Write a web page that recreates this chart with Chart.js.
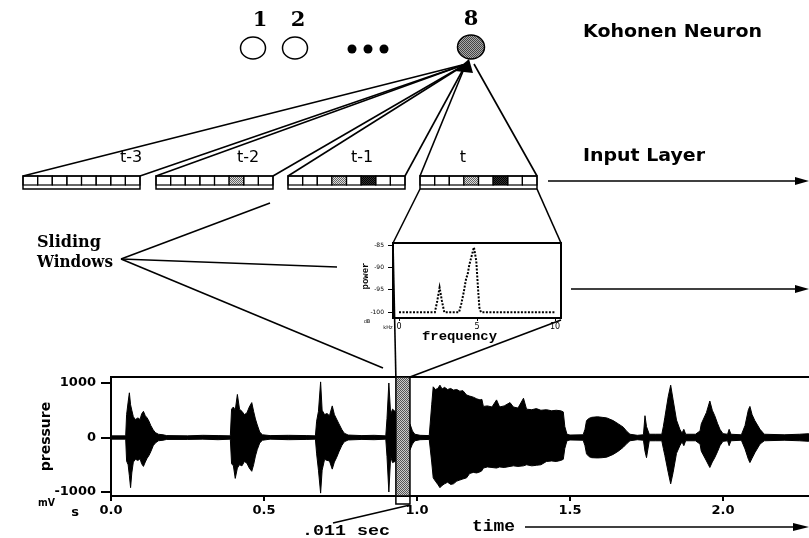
<!DOCTYPE html>
<html>
<head>
<meta charset="utf-8">
<script src="https://cdn.jsdelivr.net/npm/chart.js@4.4.1/dist/chart.umd.min.js"></script>
<style>
  html, body { margin: 0; padding: 0; background: #fff; overflow: hidden; }
  #wrap { position: relative; width: 830px; height: 538px; }
  #wrap canvas { position: absolute; left: 0; top: 0; }
</style>
</head>
<body>
<div id="wrap">
  <canvas id="pressureChart" width="830" height="538"></canvas>
  <canvas id="powerChart" width="830" height="538"></canvas>
</div>
<script>
// pressure trace: envelope of the recording (seconds, mV)
const timeTicks = [0, 0.5, 1.0, 1.5, 2.0];
const pressureTicks = [-1000, 0, 1000];
const waveTime = [
  0.000, 0.048, 0.051, 0.056, 0.060, 0.064, 0.068, 0.073, 0.080, 0.088, 0.095, 0.100, 0.106, 0.112, 0.118, 0.124, 0.130, 0.138, 0.145, 0.155, 0.170, 0.182, 0.250, 0.300, 0.350, 0.390,
  0.394, 0.400, 0.406, 0.413, 0.420, 0.428, 0.436, 0.444, 0.452, 0.460, 0.466, 0.472, 0.478, 0.486, 0.495, 0.520, 0.580, 0.640, 0.668,
  0.672, 0.678, 0.685, 0.690, 0.698, 0.706, 0.714, 0.723, 0.730, 0.737, 0.745, 0.754, 0.762, 0.775, 0.820, 0.860, 0.898,
  0.902, 0.908, 0.914, 0.920, 0.928, 0.935, 0.950, 0.965, 0.977, 0.985, 0.993, 1.010, 1.040,
  1.048, 1.053, 1.060, 1.068, 1.075, 1.082, 1.090, 1.100, 1.110, 1.119, 1.130, 1.140, 1.150, 1.162, 1.172, 1.184, 1.195, 1.206, 1.212, 1.217, 1.230, 1.245, 1.260, 1.270, 1.285, 1.304, 1.315, 1.330, 1.348, 1.358, 1.375, 1.390, 1.405, 1.423, 1.440, 1.455, 1.470, 1.478, 1.483, 1.490, 1.500, 1.543,
  1.549, 1.554, 1.562, 1.571, 1.590, 1.605, 1.620, 1.641, 1.658, 1.674, 1.686, 1.696, 1.720, 1.740, 1.745, 1.750, 1.759, 1.780, 1.800,
  1.805, 1.810, 1.821, 1.829, 1.837, 1.848, 1.859, 1.866, 1.872, 1.878, 1.910,
  1.925, 1.929, 1.946, 1.957, 1.965, 1.973, 1.982, 1.990, 2.000, 2.015, 2.020, 2.026, 2.060,
  2.072, 2.083, 2.088, 2.095, 2.104, 2.121, 2.135, 2.200, 2.250, 2.280, 2.320
];
const waveUpper = [
  30, 30, 420, 650, 820, 600, 500, 380, 330, 360, 330, 430, 480, 400, 360, 300, 220, 140, 90, 60, 50, 35, 30, 40, 35, 30,
  520, 560, 500, 790, 520, 480, 420, 450, 560, 640, 480, 340, 230, 100, 50, 35, 40, 35, 30,
  300, 480, 1020, 500, 420, 440, 400, 580, 420, 340, 250, 150, 80, 45, 35, 40, 30,
  350, 1000, 420, 520, 480, 400, 330, 280, 250, 120, 60, 40, 35,
  600, 930, 880, 900, 960, 890, 920, 880, 900, 870, 880, 850, 860, 780, 760, 740, 710, 690, 700, 570, 580, 560, 690, 560, 580, 640, 560, 540, 720, 520, 510, 530, 500, 510, 490, 500, 490, 470, 200, 60, 45, 50,
  150, 310, 350, 370, 380, 370, 360, 310, 250, 190, 110, 60, 40, 50, 400, 200, 60, 60, 60,
  200, 370, 750, 960, 690, 320, 150, 80, 150, 60, 60,
  120, 250, 460, 670, 500, 400, 260, 150, 70, 60, 150, 60, 50,
  220, 510, 570, 420, 310, 150, 60, 50, 60, 70, 60
];
const waveLower = [
  -30, -30, -430, -500, -700, -920, -650, -450, -400, -420, -390, -480, -530, -450, -380, -330, -260, -150, -100, -60, -50, -35, -35, -30, -40, -30,
  -480, -520, -750, -560, -500, -520, -440, -470, -560, -620, -500, -340, -220, -100, -50, -30, -40, -35, -30,
  -300, -600, -1020, -600, -400, -420, -430, -580, -450, -370, -260, -150, -80, -45, -35, -40, -30,
  -350, -1000, -350, -460, -440, -380, -320, -270, -230, -120, -60, -40, -35,
  -450, -740, -800, -860, -920, -880, -850, -820, -860, -850, -800, -780, -760, -740, -660, -640, -650, -630, -610, -560, -540, -550, -560, -540, -550, -530, -520, -530, -520, -500, -520, -510, -500, -440, -430, -440, -420, -400, -200, -60, -45, -50,
  -150, -300, -350, -370, -375, -370, -360, -310, -250, -180, -110, -60, -40, -50, -250, -370, -60, -60, -60,
  -200, -330, -640, -850, -640, -290, -150, -80, -150, -60, -60,
  -120, -250, -430, -550, -450, -370, -260, -150, -70, -60, -150, -60, -50,
  -210, -400, -460, -380, -280, -120, -60, -50, -60, -70, -60
];
const slidingWindow = [0.931, 0.977];   // seconds, shaded analysis frame

// spectrum of the current frame (kHz, dB)
const freqTicks = [0, 5, 10];
const powerTicks = [-100, -95, -90, -85];
const powerFreq = [0, 2.3, 2.45, 2.6, 2.75, 2.9, 3.85, 4.0, 4.15, 4.3, 4.4, 4.5, 4.65, 4.8, 4.95, 5.05, 5.15, 5.25, 10];
const powerDb = [-100, -100, -97.5, -94.5, -97.5, -100, -100, -98, -95.5, -92.5, -91.5, -89.5, -87.5, -85.5, -88.5, -94, -99, -100, -100];

// network diagram contents
const neuronLabels = ['1', '2', '8'];
const inputLabels = ['t-3', 't-2', 't-1', 't'];
// 0 = off, 1 = grey, 2 = black
const inputCells = [
  [0, 0, 0, 0, 0, 0, 0, 0],
  [0, 0, 0, 0, 0, 1, 0, 0],
  [0, 0, 0, 1, 0, 2, 0, 0],
  [0, 0, 0, 1, 0, 2, 0, 0]
];

// layout
const pressureArea = { left: 111, top: 377, bottom: 496, right: 820 };
const specBox = { left: 393, top: 243, right: 561, bottom: 318 };
const boxLefts = [23, 156, 288, 420];
const boxWidth = 117;
const boxTop = 176;
const apex = [466, 64];

function stipple(ctx, dark, light) {
  const c = document.createElement('canvas');
  c.width = 2; c.height = 2;
  const p = c.getContext('2d');
  p.fillStyle = light; p.fillRect(0, 0, 2, 2);
  p.fillStyle = dark; p.fillRect(0, 0, 1, 1); p.fillRect(1, 1, 1, 1);
  return ctx.createPattern(c, 'repeat');
}

function line(ctx, x1, y1, x2, y2, w) {
  ctx.lineWidth = w || 1.5;
  ctx.beginPath(); ctx.moveTo(x1, y1); ctx.lineTo(x2, y2); ctx.stroke();
}

function arrow(ctx, x1, y1, x2, y2, head, half) {
  const a = Math.atan2(y2 - y1, x2 - x1);
  const c = Math.cos(a), s = Math.sin(a);
  line(ctx, x1, y1, x2 - head * c * 0.7, y2 - head * s * 0.7, 1.5);
  ctx.beginPath();
  ctx.moveTo(x2, y2);
  ctx.lineTo(x2 - head * c + half * s, y2 - head * s - half * c);
  ctx.lineTo(x2 - head * c - half * s, y2 - head * s + half * c);
  ctx.closePath(); ctx.fill();
}

// text squeezed or stretched to a given width
function fitText(ctx, text, x, y, width, font) {
  ctx.save();
  ctx.font = font;
  ctx.textAlign = 'left';
  ctx.textBaseline = 'middle';
  const w = ctx.measureText(text).width;
  ctx.translate(x, y);
  ctx.scale(width / w, 1);
  ctx.fillText(text, 0, 0);
  ctx.restore();
}

function drawDiagram(chart) {
  const ctx = chart.ctx;
  ctx.save();
  ctx.strokeStyle = '#000';
  ctx.fillStyle = '#000';

  // Kohonen layer
  ctx.font = 'bold 21px "DejaVu Serif"';
  ctx.textAlign = 'center';
  ctx.textBaseline = 'middle';
  ctx.fillText(neuronLabels[0], 260, 21);
  ctx.fillText(neuronLabels[1], 298, 21);
  ctx.fillText(neuronLabels[2], 471, 20);
  ctx.lineWidth = 1.5;
  [[253, 48], [295, 48]].forEach(([cx, cy]) => {
    ctx.beginPath(); ctx.ellipse(cx, cy, 12.5, 11, 0, 0, Math.PI * 2); ctx.stroke();
  });
  [352, 368, 384].forEach(cx => {
    ctx.beginPath(); ctx.arc(cx, 49, 4.5, 0, Math.PI * 2); ctx.fill();
  });
  ctx.fillStyle = stipple(ctx, '#444', '#aaa');
  ctx.beginPath(); ctx.ellipse(471, 47, 13.5, 12, 0, 0, Math.PI * 2); ctx.fill(); ctx.stroke();
  ctx.fillStyle = '#000';
  fitText(ctx, 'Kohonen Neuron', 583, 33, 179, 'bold 17px "DejaVu Sans"');

  // input windows and their connections to the winning neuron
  const cellW = boxWidth / 8;
  const grey = stipple(ctx, '#666', '#ddd');
  const dark = stipple(ctx, '#000', '#333');
  boxLefts.forEach((bx, k) => {
    inputCells[k].forEach((v, i) => {
      const x = bx + i * cellW;
      if (v > 0) {
        ctx.fillStyle = v === 1 ? grey : dark;
        ctx.fillRect(x, boxTop, cellW, 9);
      }
      ctx.lineWidth = 1.2;
      ctx.strokeRect(x, boxTop, cellW, 9);
    });
    ctx.lineWidth = 1.5;
    ctx.strokeRect(bx, boxTop, boxWidth, 13);
    ctx.fillStyle = '#000';
    line(ctx, bx, boxTop, apex[0], apex[1], 1.6);
    line(ctx, bx + boxWidth, boxTop, k === 3 ? apex[0] + 8 : apex[0], apex[1], 1.6);
  });
  ctx.beginPath();
  ctx.moveTo(469, 59); ctx.lineTo(455, 71); ctx.lineTo(473, 73); ctx.closePath(); ctx.fill();

  ctx.font = '16px "DejaVu Sans"';
  ctx.textAlign = 'center';
  [131, 248, 362, 463].forEach((x, k) => ctx.fillText(inputLabels[k], x, 158));

  fitText(ctx, 'Input Layer', 583, 157, 122, 'bold 17px "DejaVu Sans"');
  arrow(ctx, 548, 181, 809, 181, 14, 4);

  // zoom from the current window to its spectrum
  line(ctx, boxLefts[3], boxTop + 13, specBox.left, specBox.top, 1.6);
  line(ctx, boxLefts[3] + boxWidth, boxTop + 13, specBox.right, specBox.top, 1.6);
  arrow(ctx, 571, 289, 809, 289, 14, 4);

  // spectrum back down to the frame in the pressure trace
  const fx0 = chart.scales.x.getPixelForValue(slidingWindow[0]);
  const fx1 = chart.scales.x.getPixelForValue(slidingWindow[1]);
  line(ctx, specBox.left, specBox.top, fx0, pressureArea.top, 1.6);
  line(ctx, fx1, pressureArea.top, specBox.right, specBox.bottom + 2, 1.6);

  // sliding windows callout
  fitText(ctx, 'Sliding', 37, 243, 64, 'bold 16px "DejaVu Serif"');
  fitText(ctx, 'Windows', 37, 263, 76, 'bold 16px "DejaVu Serif"');
  line(ctx, 121, 259, 270, 203, 1.6);
  line(ctx, 121, 259, 337, 267, 1.6);
  line(ctx, 121, 259, 383, 368, 1.6);

  // frame width bracket
  ctx.lineWidth = 1.5;
  ctx.beginPath();
  ctx.moveTo(fx0, pressureArea.bottom); ctx.lineTo(fx0, 504);
  ctx.lineTo(fx1, 504); ctx.lineTo(fx1, pressureArea.bottom);
  ctx.stroke();
  line(ctx, 333, 523, fx1, 505, 1.6);
  fitText(ctx, '.011 sec', 302, 531, 88, 'bold 15px "Liberation Mono"');

  // time arrow and units
  fitText(ctx, 'time', 472, 527, 43, 'bold 16px "Liberation Mono"');
  arrow(ctx, 525, 527, 809, 527, 16, 4);
  fitText(ctx, 'mV', 38, 503, 17, 'bold 11px "DejaVu Sans"');
  ctx.font = 'bold 13px "DejaVu Sans"';
  ctx.textAlign = 'center';
  ctx.fillText('s', 75, 513);
  ctx.restore();
}

const pressurePlugin = {
  id: 'pressureFrame',
  afterDatasetsDraw(chart) {
    const { ctx, chartArea, scales } = chart;
    ctx.save();
    ctx.strokeStyle = '#000';
    ctx.lineWidth = 2;
    ctx.strokeRect(chartArea.left, chartArea.top, chartArea.right - chartArea.left + 20, chartArea.bottom - chartArea.top);
    const x0 = scales.x.getPixelForValue(slidingWindow[0]);
    const x1 = scales.x.getPixelForValue(slidingWindow[1]);
    ctx.fillStyle = stipple(ctx, '#555', '#ccc');
    ctx.fillRect(x0, chartArea.top, x1 - x0, chartArea.bottom - chartArea.top);
    ctx.lineWidth = 1.5;
    ctx.strokeRect(x0, chartArea.top, x1 - x0, chartArea.bottom - chartArea.top);
    ctx.restore();
  },
  afterDraw(chart) {
    drawDiagram(chart);
  }
};

const spectrumPlugin = {
  id: 'spectrumFrame',
  afterDraw(chart) {
    const { ctx, chartArea } = chart;
    ctx.save();
    ctx.strokeStyle = '#000';
    ctx.fillStyle = '#000';
    ctx.lineWidth = 2;
    ctx.strokeRect(chartArea.left, chartArea.top, chartArea.right - chartArea.left, chartArea.bottom - chartArea.top);
    ctx.save();
    ctx.translate(366, 276);
    ctx.rotate(-Math.PI / 2);
    ctx.font = 'bold 9px "Liberation Mono"';
    ctx.textAlign = 'center';
    ctx.textBaseline = 'middle';
    ctx.fillText('power', 0, 0);
    ctx.restore();
    ctx.font = '5px "DejaVu Sans"';
    ctx.textAlign = 'center';
    ctx.textBaseline = 'middle';
    ctx.fillText('dB', 367, 322);
    ctx.fillText('kHz', 388, 328);
    fitText(ctx, 'frequency', 422, 337, 75, 'bold 13px "Liberation Mono"');
    ctx.restore();
  }
};

const pressureChart = new Chart(document.getElementById('pressureChart'), {
  type: 'line',
  data: {
    datasets: [{
      data: waveTime.map((t, i) => ({ x: t, y: waveUpper[i] })),
      borderColor: '#000',
      borderWidth: 1,
      pointRadius: 0,
      fill: false
    }, {
      data: waveTime.map((t, i) => ({ x: t, y: waveLower[i] })),
      borderColor: '#000',
      borderWidth: 1,
      pointRadius: 0,
      backgroundColor: '#000',
      fill: '-1'
    }]
  },
  options: {
    responsive: false,
    animation: false,
    events: [],
    layout: { padding: { left: 0, top: pressureArea.top, right: 830 - pressureArea.right, bottom: 0 } },
    plugins: { legend: { display: false }, tooltip: { enabled: false } },
    scales: {
      x: {
        type: 'linear',
        min: 0,
        max: (pressureArea.right - pressureArea.left) / 306,
        afterBuildTicks: s => { s.ticks = timeTicks.map(v => ({ value: v })); },
        afterFit: s => { s.height = 538 - pressureArea.bottom; },
        ticks: {
          callback: v => v.toFixed(1),
          color: '#000',
          maxRotation: 0,
          padding: 2,
          font: { family: 'DejaVu Sans', weight: 'bold', size: 13 }
        },
        grid: { drawOnChartArea: false, tickLength: 5, color: '#000', lineWidth: 2 },
        border: { color: '#000', width: 2 }
      },
      y: {
        min: -1073,
        max: 1110,
        afterBuildTicks: s => { s.ticks = pressureTicks.map(v => ({ value: v })); },
        afterFit: s => { s.width = pressureArea.left; },
        ticks: {
          callback: v => String(v),
          color: '#000',
          padding: 5,
          font: { family: 'DejaVu Sans', weight: 'bold', size: 13 }
        },
        grid: { drawOnChartArea: false, tickLength: 10, color: '#000', lineWidth: 2 },
        border: { color: '#000', width: 2 },
        title: {
          display: true,
          text: 'pressure',
          color: '#000',
          padding: { top: 38, bottom: 0 },
          font: { family: 'DejaVu Sans', weight: 'bold', size: 14 }
        }
      }
    }
  },
  plugins: [pressurePlugin]
});

const powerChart = new Chart(document.getElementById('powerChart'), {
  type: 'line',
  data: {
    datasets: [{
      data: powerFreq.map((f, i) => ({ x: f, y: powerDb[i] })),
      borderColor: '#000',
      borderWidth: 2,
      borderDash: [2, 1.5],
      pointRadius: 0,
      fill: false
    }]
  },
  options: {
    responsive: false,
    animation: false,
    events: [],
    layout: { padding: { left: 340, top: specBox.top, right: 830 - specBox.right, bottom: 538 - specBox.bottom - 20 } },
    plugins: { legend: { display: false }, tooltip: { enabled: false } },
    scales: {
      x: {
        type: 'linear',
        min: -0.385,
        max: 10.38,
        afterBuildTicks: s => { s.ticks = freqTicks.map(v => ({ value: v })); },
        afterFit: s => { s.height = 20; },
        ticks: { color: '#000', maxRotation: 0, padding: 1, font: { family: 'DejaVu Sans', size: 8 } },
        grid: { drawOnChartArea: false, tickLength: 3, color: '#000', lineWidth: 1 },
        border: { color: '#000', width: 2 }
      },
      y: {
        min: -101.3,
        max: -84.55,
        afterBuildTicks: s => { s.ticks = powerTicks.map(v => ({ value: v })); },
        afterFit: s => { s.width = specBox.left - 340; },
        ticks: { color: '#000', padding: 4, font: { family: 'DejaVu Sans', size: 6 } },
        grid: { drawOnChartArea: false, tickLength: 5, color: '#000', lineWidth: 1 },
        border: { color: '#000', width: 2 }
      }
    }
  },
  plugins: [spectrumPlugin]
});
</script>
</body>
</html>
